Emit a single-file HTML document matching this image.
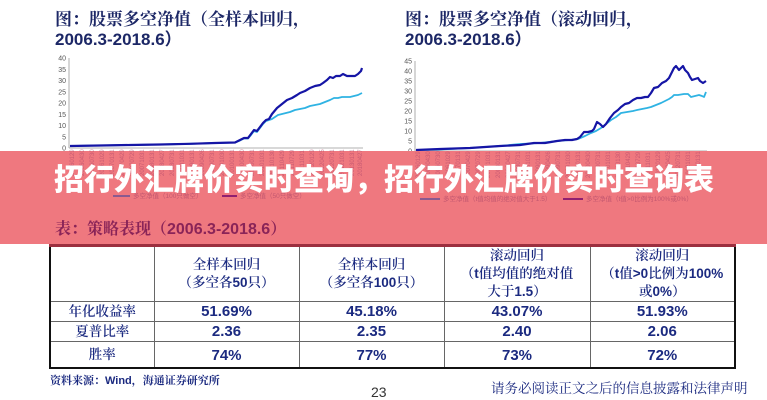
<!DOCTYPE html>
<html><head><meta charset="utf-8">
<style>
html,body{margin:0;padding:0;background:#fff;}
body{width:767px;height:400px;position:relative;overflow:hidden;font-family:"Liberation Sans","Noto Sans CJK SC",sans-serif;}
.t{position:absolute;white-space:nowrap;}
.ttl{color:#1c2766;font-family:"Liberation Sans","Noto Serif CJK SC",serif;font-weight:bold;font-size:17px;line-height:20px;}
.ttl2{color:#1c2766;font-family:"Liberation Sans","Noto Sans CJK SC",sans-serif;font-weight:bold;font-size:17px;line-height:20px;}
#band{position:absolute;left:0;top:151px;width:767px;height:93px;background:rgb(239,120,127);}
#big{position:absolute;left:54px;top:162px;font-family:"Liberation Sans","Noto Sans CJK SC",sans-serif;font-weight:900;font-size:30px;line-height:38px;color:#fff;white-space:nowrap;letter-spacing:0px;}
#tbl{position:absolute;left:49px;top:244px;border-collapse:collapse;border-top:3px solid #9c2f3f;border-left:2px solid #111;border-right:2px solid #111;border-bottom:2px solid #111;}
#tbl td{border:1px solid #666;padding:0;text-align:center;color:#1b2a80;}
.cn{font-family:"Liberation Serif","Noto Serif CJK SC",serif;font-size:13.5px;line-height:19px;font-weight:600;}
.hd{line-height:18px;}
.num{font-family:"Liberation Sans",sans-serif;font-weight:bold;font-size:15px;}
</style></head><body>

<div class="t ttl" style="left:55px;top:10px;">图：股票多空净值（全样本回归，</div>
<div class="t ttl2" style="left:55px;top:30px;">2006.3-2018.6）</div>
<div class="t ttl" style="left:405px;top:10px;">图：股票多空净值（滚动回归，</div>
<div class="t ttl2" style="left:405px;top:30px;">2006.3-2018.6）</div>

<svg width="767" height="400" style="position:absolute;left:0;top:0;" xmlns="http://www.w3.org/2000/svg">
<g font-family="Liberation Sans, sans-serif" font-size="7" fill="#555" text-anchor="end">
<text x="66" y="150.5">0</text><text x="66" y="139.25">5</text><text x="66" y="128">10</text><text x="66" y="116.75">15</text><text x="66" y="105.5">20</text><text x="66" y="94.25">25</text><text x="66" y="83">30</text><text x="66" y="71.75">35</text><text x="66" y="60.5">40</text>
<text x="412" y="153.5">0</text><text x="412" y="143.5">5</text><text x="412" y="133.5">10</text><text x="412" y="123.5">15</text><text x="412" y="113.5">20</text><text x="412" y="103.5">25</text><text x="412" y="93.5">30</text><text x="412" y="83.5">35</text><text x="412" y="73.5">40</text><text x="412" y="63.5">45</text>
</g>
<g stroke="#999" stroke-width="0.8">
<line x1="69" y1="58" x2="69" y2="148"/><line x1="69" y1="148" x2="363" y2="148"/>
<line x1="415" y1="61" x2="415" y2="151"/><line x1="415" y1="151" x2="707" y2="151"/>
</g>
<polyline fill="none" stroke="#2fb3e3" stroke-width="1.8" stroke-linejoin="round" points="70,146 100,145.5 130,145 160,144.5 190,143.8 215,143 235,142.5 240,140.5 244,138.5 248,138.5 251,135 254,131 257,132 260,128 263,124 266,121 269,120 272,119 275,117 278,115 282,114 286,113 290,112 295,110 300,109 305,108 310,106 315,105 320,104 325,102 330,100 334,98 338,98 342,97 346,97 350,97 354,96 358,95 362,93"/>
<polyline fill="none" stroke="#1515a5" stroke-width="2.2" stroke-linejoin="round" points="70,146 100,145.5 130,145 160,144.5 190,143.8 215,143 235,142.5 240,140 244,138 248,138 251,134 254,130 257,131 260,127 263,123 266,120 269,119 272,114 277,108 282,104 287,100 292,98 297,95 300,93 305,91 310,88 315,86 320,85 323,83 327,80 330,77 333,78 336,76 340,76 343,74 347,76 351,76 355,76 358,74 361,71 362,68"/>
<polyline fill="none" stroke="#2fb3e3" stroke-width="1.8" stroke-linejoin="round" points="416,150 440,149.5 470,148 500,146 520,144 540,143 557,141 570,140 578,139 585,136 591,133 596,131 601,128 606,124 611,120 616,117 621,113 627,112 633,111 637,110 642,109 647,108 651,107 656,105 661,103 665,101 669,99 672,97 674,95 678,95 684,94 688,94 691,97 695,96 699,95 702,96 704,97 706,92"/>
<polyline fill="none" stroke="#1515a5" stroke-width="2.2" stroke-linejoin="round" points="416,150 440,149 470,148 500,146 520,145 534,143 545,143 557,141 565,140 572,140 577,139 580,137 584,132 588,132 592,131 594,129 597,122 600,124 603,127 606,124 610,118 614,113 618,110 621,107 625,104 629,103 633,100 637,98 641,98 645,97 648,97 651,93 654,88 658,87 662,83 666,81 669,78 672,72 674,68 676,66 679,70 681,68 683,66 685,70 688,73 690,77 692,80 695,79 698,78 700,81 703,83 706,81"/>
</svg>

<div id="band"></div>

<svg width="767" height="400" style="position:absolute;left:0;top:0;" xmlns="http://www.w3.org/2000/svg">
<g font-family="Liberation Sans, sans-serif" font-size="6" fill="#b04a6a" fill-opacity="0.6">
<text transform="translate(74,176) rotate(-90)">20060129</text><text transform="translate(84,176) rotate(-90)">20060430</text><text transform="translate(94,176) rotate(-90)">20060730</text><text transform="translate(104,176) rotate(-90)">20061029</text><text transform="translate(114,176) rotate(-90)">20070131</text><text transform="translate(124,176) rotate(-90)">20070429</text><text transform="translate(134,176) rotate(-90)">20070729</text><text transform="translate(144,176) rotate(-90)">20071031</text><text transform="translate(154,176) rotate(-90)">20080131</text><text transform="translate(164,176) rotate(-90)">20080427</text><text transform="translate(174,176) rotate(-90)">20080731</text><text transform="translate(184,176) rotate(-90)">20081031</text><text transform="translate(194,176) rotate(-90)">20090131</text><text transform="translate(204,176) rotate(-90)">20090426</text><text transform="translate(214,176) rotate(-90)">20090731</text><text transform="translate(224,176) rotate(-90)">20091030</text><text transform="translate(234,176) rotate(-90)">20100131</text><text transform="translate(244,176) rotate(-90)">20100430</text><text transform="translate(254,176) rotate(-90)">20100731</text><text transform="translate(264,176) rotate(-90)">20101031</text><text transform="translate(274,176) rotate(-90)">20110130</text><text transform="translate(284,176) rotate(-90)">20110429</text><text transform="translate(294,176) rotate(-90)">20110729</text><text transform="translate(304,176) rotate(-90)">20111031</text><text transform="translate(314,176) rotate(-90)">20120129</text><text transform="translate(324,176) rotate(-90)">20120425</text><text transform="translate(334,176) rotate(-90)">20120731</text><text transform="translate(344,176) rotate(-90)">20121031</text><text transform="translate(354,176) rotate(-90)">20130131</text><text transform="translate(362,176) rotate(-90)">20180427</text>
<text transform="translate(420,178) rotate(-90)">20060129</text><text transform="translate(430,178) rotate(-90)">20060430</text><text transform="translate(440,178) rotate(-90)">20060730</text><text transform="translate(450,178) rotate(-90)">20061029</text><text transform="translate(460,178) rotate(-90)">20070131</text><text transform="translate(470,178) rotate(-90)">20070429</text><text transform="translate(480,178) rotate(-90)">20070729</text><text transform="translate(490,178) rotate(-90)">20071031</text><text transform="translate(500,178) rotate(-90)">20080131</text><text transform="translate(510,178) rotate(-90)">20080427</text><text transform="translate(520,178) rotate(-90)">20080731</text><text transform="translate(530,178) rotate(-90)">20081031</text><text transform="translate(540,178) rotate(-90)">20090131</text><text transform="translate(550,178) rotate(-90)">20090426</text><text transform="translate(560,178) rotate(-90)">20090731</text><text transform="translate(570,178) rotate(-90)">20091030</text><text transform="translate(580,178) rotate(-90)">20100131</text><text transform="translate(590,178) rotate(-90)">20100430</text><text transform="translate(600,178) rotate(-90)">20100731</text><text transform="translate(610,178) rotate(-90)">20101031</text><text transform="translate(620,178) rotate(-90)">20110130</text><text transform="translate(630,178) rotate(-90)">20110429</text><text transform="translate(640,178) rotate(-90)">20110729</text><text transform="translate(650,178) rotate(-90)">20111031</text><text transform="translate(660,178) rotate(-90)">20120129</text><text transform="translate(670,178) rotate(-90)">20120425</text><text transform="translate(680,178) rotate(-90)">20120731</text><text transform="translate(690,178) rotate(-90)">20121031</text><text transform="translate(700,178) rotate(-90)">20130131</text>
</g>
<g font-family="Liberation Sans, Noto Sans CJK SC, sans-serif" font-size="6.5" fill="#b04a6a" fill-opacity="0.7">
<line x1="113" y1="196" x2="130" y2="196" stroke="#8a5a90" stroke-width="2"/><text x="133" y="198">多空净值（100只做空）</text>
<line x1="222" y1="196" x2="237" y2="196" stroke="#902070" stroke-width="2"/><text x="240" y="198">多空净值（50只做空）</text>
<line x1="420" y1="199" x2="440" y2="199" stroke="#8a5a90" stroke-width="2"/><text x="443" y="201">多空净值（t值均值的绝对值大于1.5）</text>
<line x1="563" y1="199" x2="583" y2="199" stroke="#902070" stroke-width="2"/><text x="586" y="201">多空净值（t值&gt;0比例为100%或0%）</text>
</g>
</svg>

<div id="big">招行外汇牌价实时查询，招行外汇牌价实时查询表</div>
<div class="t" style="left:55px;top:220px;font-family:'Liberation Sans','Noto Serif CJK SC',serif;font-size:16px;line-height:20px;color:#8a2458;font-weight:bold;">表：策略表现（2006.3-2018.6）</div>

<table id="tbl">
<colgroup><col style="width:104px"><col style="width:145px"><col style="width:145px"><col style="width:146px"><col style="width:145px"></colgroup>
<tr style="height:54px"><td></td>
<td class="cn hd">全样本回归<br>（多空各<b style="font-family:'Liberation Sans';">50</b>只）</td>
<td class="cn hd">全样本回归<br>（多空各<b style="font-family:'Liberation Sans';">100</b>只）</td>
<td class="cn hd">滚动回归<br>（<b style="font-family:'Liberation Sans';">t</b>值均值的绝对值<br>大于<b style="font-family:'Liberation Sans';">1.5</b>）</td>
<td class="cn hd">滚动回归<br>（<b style="font-family:'Liberation Sans';">t</b>值<b style="font-family:'Liberation Sans';">&gt;0</b>比例为<b style="font-family:'Liberation Sans';">100%</b><br>或<b style="font-family:'Liberation Sans';">0%</b>）</td></tr>
<tr style="height:20px"><td class="cn">年化收益率</td><td class="num">51.69%</td><td class="num">45.18%</td><td class="num">43.07%</td><td class="num">51.93%</td></tr>
<tr style="height:19px"><td class="cn">夏普比率</td><td class="num">2.36</td><td class="num">2.35</td><td class="num">2.40</td><td class="num">2.06</td></tr>
<tr style="height:26px"><td class="cn" style="vertical-align:bottom;padding-bottom:3px;">胜率</td><td class="num" style="vertical-align:bottom;padding-bottom:3px;">74%</td><td class="num" style="vertical-align:bottom;padding-bottom:3px;">77%</td><td class="num" style="vertical-align:bottom;padding-bottom:3px;">73%</td><td class="num" style="vertical-align:bottom;padding-bottom:3px;">72%</td></tr>
</table>

<div class="t" style="left:50px;top:374px;font-family:'Liberation Sans','Noto Serif CJK SC',serif;font-size:11px;line-height:14px;color:#1b2a80;font-weight:bold;">资料来源：Wind，海通证券研究所</div>
<div class="t" style="left:371px;top:384px;font-family:'Liberation Sans',sans-serif;font-size:14px;line-height:16px;color:#333;">23</div>
<div class="t" style="left:491px;top:381px;font-family:'Liberation Serif','Noto Serif CJK SC',serif;font-size:13.5px;line-height:16px;color:#1b2a80;">请务必阅读正文之后的信息披露和法律声明</div>

</body></html>
